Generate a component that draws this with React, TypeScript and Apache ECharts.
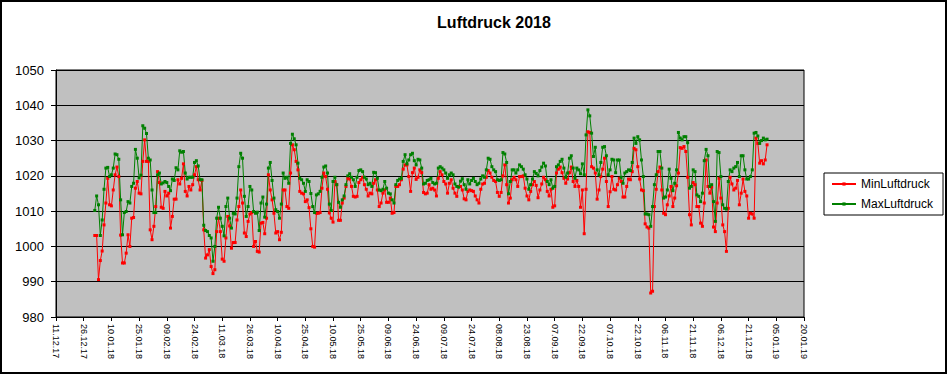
import React, { useEffect, useRef } from "react";
import * as echarts from "echarts";

const chartTitle = "Luftdruck 2018";
const seriesNames = ["MinLuftdruck", "MaxLuftdruck"];
const seriesColors = ["#ff0000", "#008000"];

// x axis: days counted from 11.12.17, a tick every 15 days up to 20.01.19
const axisStartUTC = Date.UTC(2017, 11, 11);
const firstDataDay = 21; // 01.01.18
const xMaxDays = 405;
const xStepDays = 15;

const yMin = 980;
const yMax = 1050;
const yStep = 10;

// daily values 01.01.18 .. 31.12.18 (hPa)
const minLuftdruck = [
  1003.1, 1003.1, 990.6, 996.0, 998.7, 1006.1, 1012.3, 1019.3, 1011.8, 1011.5,
  1016.0, 1020.3, 1022.5, 1019.8, 1003.2, 995.3, 995.3, 998.1, 1003.3, 1000.0,
  1008.0, 1008.2, 1016.5, 1018.4, 1015.1, 1014.9, 1024.1, 1030.2, 1024.1, 1024.1,
  1004.7, 1001.9, 1005.7, 1011.3, 1021.2, 1018.1, 1011.1, 1010.8, 1015.6, 1014.3,
  1015.1, 1005.2, 1008.5, 1013.4, 1013.4, 1018.9, 1017.7, 1019.3, 1023.4, 1015.6,
  1014.3, 1017.0, 1016.0, 1017.5, 1020.3, 1022.6, 1018.9, 1016.0, 1018.7, 1004.7,
  996.7, 997.6, 999.1, 994.3, 992.3, 993.4, 1004.2, 1008.0, 1004.2, 996.4,
  995.8, 1002.4, 1008.5, 1005.8, 999.5, 1001.1, 1001.1, 1007.5, 1011.3, 1016.0,
  1012.3, 1003.8, 1002.8, 1007.1, 1009.2, 1009.6, 1000.0, 1001.4, 998.6, 998.4,
  1006.6, 1006.8, 1003.6, 1008.0, 1020.3, 1016.0, 1013.2, 1009.4, 1003.8, 1004.2,
  1001.9, 1004.0, 1016.0, 1016.0, 1011.3, 1010.8, 1020.8, 1028.8, 1027.4, 1024.1,
  1021.7, 1015.6, 1015.1, 1014.9, 1012.7, 1013.2, 1011.0, 1005.0, 1000.0, 999.8,
  1009.4, 1009.4, 1009.6, 1016.5, 1020.8, 1019.8, 1016.2, 1009.5, 1008.0, 1006.9,
  1018.4, 1017.5, 1007.4, 1007.4, 1012.3, 1013.7, 1017.0, 1019.3, 1019.1, 1017.0,
  1014.2, 1014.0, 1014.2, 1018.1, 1018.9, 1019.6, 1017.5, 1016.2, 1014.3, 1015.1,
  1014.9, 1017.9, 1018.9, 1016.0, 1011.3, 1012.3, 1015.1, 1016.0, 1012.5, 1012.5,
  1013.7, 1009.4, 1009.6, 1017.0, 1017.0, 1017.5, 1018.9, 1021.9, 1023.1, 1023.1,
  1019.8, 1015.6, 1020.9, 1022.2, 1019.0, 1019.6, 1021.7, 1020.9, 1015.3, 1014.9,
  1015.1, 1017.5, 1016.2, 1016.5, 1016.0, 1014.3, 1019.3, 1021.2, 1020.3, 1018.4,
  1017.7, 1015.1, 1017.9, 1018.9, 1016.5, 1015.1, 1014.2, 1017.0, 1017.0, 1016.0,
  1013.5, 1013.2, 1015.6, 1016.0, 1015.8, 1015.6, 1014.3, 1013.2, 1012.3, 1016.2,
  1017.7, 1017.9, 1019.6, 1021.5, 1020.8, 1019.6, 1018.7, 1018.4, 1015.3, 1014.2,
  1015.3, 1020.0, 1023.1, 1017.5, 1012.3, 1013.7, 1018.9, 1019.6, 1018.9, 1017.0,
  1019.8, 1019.8, 1020.0, 1016.5, 1014.3, 1013.2, 1015.6, 1017.5, 1018.4, 1017.3,
  1013.8, 1016.0, 1017.7, 1019.6, 1018.9, 1015.6, 1014.3, 1016.2, 1011.1, 1011.5,
  1020.8, 1021.9, 1022.5, 1020.9, 1019.3, 1017.9, 1019.1, 1020.9, 1022.5, 1018.4,
  1017.0, 1018.7, 1017.0, 1011.1, 1016.0, 1003.6, 1016.2, 1032.5, 1032.3, 1022.6,
  1022.2, 1020.8, 1013.4, 1016.0, 1019.8, 1021.9, 1025.0, 1018.4, 1011.3, 1015.5,
  1019.8, 1016.2, 1016.0, 1017.5, 1019.3, 1018.4, 1014.0, 1014.0, 1017.0, 1019.1,
  1018.9, 1021.2, 1027.8, 1027.4, 1022.6, 1019.1, 1016.0, 1015.8, 1006.4, 1005.5,
  1005.2, 986.8, 987.3, 1011.3, 1016.2, 1021.2, 1022.5, 1016.0, 1009.4, 1009.0,
  1011.8, 1014.3, 1017.0, 1011.3, 1013.7, 1017.2, 1020.8, 1028.0, 1027.8, 1028.3,
  1026.9, 1019.6, 1009.0, 1006.1, 1018.1, 1017.5, 1011.3, 1011.3, 1006.6, 1005.7,
  1012.3, 1024.5, 1017.0, 1015.1, 1016.8, 1005.5, 1004.2, 1012.3, 1019.3, 1013.7,
  1006.1, 1004.2, 998.6, 1010.8, 1019.6, 1017.7, 1016.0, 1016.5, 1018.7, 1011.8,
  1015.1, 1019.1, 1015.6, 1014.3, 1008.0, 1009.4, 1009.2, 1008.0, 1030.7, 1029.2,
  1023.6, 1024.3, 1023.4, 1024.5, 1028.8,
];

const maxLuftdruck = [
  1010.2, 1014.3, 1011.8, 1003.1, 1007.5, 1016.2, 1022.2, 1022.4, 1019.8, 1020.3,
  1022.2, 1026.2, 1026.0, 1024.7, 1013.2, 1003.3, 1009.6, 1009.9, 1012.7, 1012.3,
  1017.0, 1017.9, 1027.5, 1025.0, 1019.4, 1020.2, 1034.2, 1033.5, 1032.0, 1025.0,
  1024.5, 1016.0, 1009.6, 1009.6, 1020.3, 1020.8, 1017.7, 1018.0, 1018.4, 1018.1,
  1017.0, 1015.8, 1019.1, 1018.7, 1022.3, 1021.7, 1027.1, 1026.7, 1026.9, 1020.8,
  1019.1, 1019.6, 1019.6, 1019.6, 1023.8, 1024.3, 1022.8, 1018.9, 1018.9, 1006.0,
  1004.5, 1004.2, 1003.1, 1002.4, 995.8, 1000.0, 1008.0, 1011.1, 1008.0, 1005.7,
  1003.0, 1011.3, 1013.7, 1008.0, 1005.2, 1009.4, 1009.2, 1013.7, 1022.6, 1026.4,
  1025.0, 1014.2, 1008.5, 1011.3, 1017.0, 1016.0, 1009.9, 1009.4, 1009.7, 1004.5,
  1012.3, 1014.0, 1008.3, 1012.0, 1022.2, 1023.8, 1018.7, 1013.7, 1010.4, 1009.9,
  1008.0, 1012.0, 1020.8, 1019.3, 1019.6, 1017.9, 1029.2, 1031.8, 1030.5, 1028.8,
  1023.6, 1019.3, 1018.9, 1017.9, 1015.6, 1018.9, 1018.4, 1015.0, 1011.3, 1009.6,
  1014.6, 1014.9, 1015.6, 1019.6, 1022.5, 1022.8, 1020.8, 1012.0, 1010.2, 1018.4,
  1019.6, 1017.5, 1012.5, 1011.1, 1013.2, 1014.3, 1017.5, 1020.0, 1020.6, 1019.6,
  1018.9, 1017.0, 1019.6, 1021.5, 1021.7, 1021.2, 1019.6, 1019.1, 1017.5, 1017.9,
  1017.0, 1021.0, 1020.9, 1019.3, 1016.0, 1015.8, 1016.2, 1018.4, 1016.5, 1015.1,
  1014.9, 1013.2, 1012.3, 1017.5, 1018.7, 1019.1, 1019.3, 1024.1, 1026.0, 1023.4,
  1024.5, 1026.0, 1026.4, 1024.3, 1023.1, 1024.7, 1024.5, 1022.2, 1017.7, 1017.9,
  1018.7, 1018.9, 1019.3, 1018.1, 1017.7, 1017.9, 1022.2, 1022.6, 1022.2, 1021.7,
  1020.8, 1019.3, 1020.3, 1020.8, 1020.3, 1017.7, 1017.0, 1016.8, 1018.5, 1019.2,
  1017.5, 1016.2, 1018.9, 1017.7, 1018.7, 1019.3, 1018.4, 1017.5, 1017.9, 1019.1,
  1020.0, 1019.6, 1021.7, 1025.0, 1024.7, 1022.6, 1021.7, 1021.2, 1018.9, 1018.7,
  1018.9, 1026.6, 1026.2, 1023.8, 1014.9, 1018.4, 1021.7, 1021.7, 1020.8, 1021.7,
  1023.1, 1022.6, 1021.9, 1020.3, 1019.1, 1016.2, 1017.5, 1019.1, 1021.2, 1020.7,
  1020.0, 1021.5, 1022.5, 1023.6, 1022.8, 1018.4, 1017.5, 1018.9, 1016.5, 1017.0,
  1022.6, 1023.1, 1024.1, 1024.7, 1022.2, 1019.6, 1020.8, 1025.0, 1025.7, 1022.2,
  1019.3, 1022.2, 1021.7, 1020.6, 1023.4, 1020.3, 1031.6, 1038.7, 1037.0, 1032.1,
  1025.5, 1028.1, 1021.7, 1020.3, 1023.8, 1028.1, 1028.3, 1025.7, 1020.3, 1021.7,
  1024.7, 1024.5, 1020.9, 1024.5, 1024.5, 1019.6, 1017.9, 1020.8, 1021.2, 1021.7,
  1021.5, 1023.8, 1030.7, 1029.2, 1031.1, 1030.2, 1024.5, 1019.8, 1009.2, 1009.2,
  1009.0, 1005.7, 1011.3, 1017.5, 1020.3, 1026.9, 1026.9, 1022.2, 1013.7, 1014.0,
  1016.0, 1021.9, 1019.3, 1015.8, 1017.9, 1021.7, 1032.3, 1030.7, 1030.2, 1031.1,
  1031.1, 1029.4, 1016.5, 1017.0, 1021.7, 1021.2, 1014.6, 1014.2, 1012.7, 1015.1,
  1024.3, 1027.5, 1025.7, 1017.0, 1017.5, 1012.7, 1007.1, 1026.9, 1026.6, 1019.8,
  1011.8, 1010.8, 1010.6, 1018.4, 1021.7, 1021.2, 1022.2, 1022.6, 1023.8, 1019.8,
  1025.7, 1025.7, 1021.7, 1019.1, 1019.1, 1019.8, 1021.7, 1032.1, 1032.3, 1031.3,
  1029.2, 1030.0, 1030.7, 1030.2, 1030.4,
];

const FONT = '"Liberation Sans", Arial, sans-serif';

function formatDay(v: number): string {
  const d = new Date(axisStartUTC + Math.round(v) * 86400000);
  const dd = String(d.getUTCDate()).padStart(2, "0");
  const mm = String(d.getUTCMonth() + 1).padStart(2, "0");
  const yy = String(d.getUTCFullYear() % 100).padStart(2, "0");
  return `${dd}.${mm}.${yy}`;
}

function toPoints(values: number[]) {
  return values.map((v, i) => [firstDataDay + i, v]);
}

export default function App() {
  const ref = useRef<HTMLDivElement>(null);

  useEffect(() => {
    document.body.style.margin = "0";
    if (!ref.current) return;
    const chart = echarts.init(ref.current, undefined, { renderer: "svg" });
    const allValues = [minLuftdruck, maxLuftdruck];
    chart.setOption({
      animation: false,
      backgroundColor: "#ffffff",
      grid: {
        left: 56,
        top: 70,
        width: 748,
        height: 247,
        show: true,
        backgroundColor: "#c0c0c0",
        borderColor: "#000000",
        borderWidth: 1,
      },
      xAxis: {
        type: "value",
        min: 0,
        max: xMaxDays,
        interval: xStepDays,
        axisLine: { show: true, onZero: false, lineStyle: { color: "#000", width: 1 } },
        axisTick: { show: true, length: 4, lineStyle: { color: "#000" } },
        splitLine: { show: false },
        axisLabel: {
          rotate: -90,
          margin: 7,
          formatter: (v: number) => formatDay(v),
          fontSize: 9,
          fontFamily: FONT,
          color: "#000",
          showMinLabel: true,
          showMaxLabel: true,
        },
      },
      yAxis: {
        type: "value",
        min: yMin,
        max: yMax,
        interval: yStep,
        axisLine: { show: true, lineStyle: { color: "#000", width: 1 } },
        axisTick: { show: true, length: 5, lineStyle: { color: "#000" } },
        splitLine: { show: true, lineStyle: { color: "#000", width: 1 } },
        axisLabel: {
          margin: 12,
          fontSize: 13,
          fontFamily: FONT,
          color: "#000",
          formatter: (v: number) => String(v),
        },
      },
      legend: {
        orient: "vertical",
        left: 824,
        top: 173,
        padding: [4, 10, 4, 7],
        backgroundColor: "#ffffff",
        borderColor: "#000",
        borderWidth: 1,
        borderRadius: 0,
        itemWidth: 24,
        itemHeight: 4,
        itemGap: 6,
        data: seriesNames,
        textStyle: { fontSize: 12, lineHeight: 14, fontFamily: FONT, color: "#000" },
      },
      series: seriesNames.map((name, k) => ({
        name,
        type: "line",
        data: toPoints(allValues[k]),
        color: seriesColors[k],
        lineStyle: { width: 1, color: seriesColors[k] },
        itemStyle: { color: seriesColors[k] },
        symbol: "rect",
        symbolSize: 3,
        showSymbol: true,
        emphasis: { disabled: true },
      })),
      graphic: [
        {
          type: "rect",
          shape: { x: 1, y: 1, width: 945, height: 372 },
          style: { fill: "none", stroke: "#000", lineWidth: 2 },
          silent: true,
        },
        {
          type: "text",
          x: 494,
          y: 22,
          style: {
            text: chartTitle,
            font: `bold 16px ${FONT}`,
            textAlign: "center",
            textVerticalAlign: "middle",
            fill: "#000",
          },
          silent: true,
        },
      ],
    });
    return () => chart.dispose();
  }, []);

  return <div ref={ref} style={{ width: 948, height: 375 }} />;
}
